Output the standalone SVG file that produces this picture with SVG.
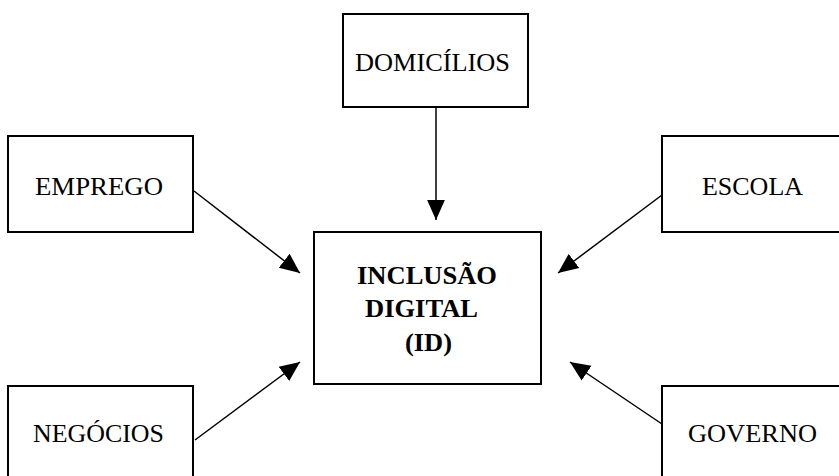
<svg xmlns="http://www.w3.org/2000/svg" width="839" height="476" viewBox="0 0 839 476">
<style>
.box{fill:#fff;stroke:#000;stroke-width:2}
.lbl{font-family:"Liberation Serif","Times New Roman",serif;font-size:26px;fill:#000}
.main{font-family:"Liberation Serif","Times New Roman",serif;font-size:26px;font-weight:bold;fill:#000}
.con{stroke:#000;stroke-width:1.5;fill:none;marker-end:url(#ah)}
</style>
<defs>
<marker id="ah" markerUnits="userSpaceOnUse" markerWidth="20" markerHeight="20" viewBox="0 0 18 16" refX="18" refY="8" orient="auto">
<path d="M0,0 L18,8 L0,16 Z" fill="#000"/>
</marker>
</defs>
<rect width="839" height="476" fill="#fff"/>
<g id="domicilios">
<rect class="box" x="343" y="14" width="185" height="93"/>
<text class="lbl" x="355" y="71" textLength="155" lengthAdjust="spacingAndGlyphs">DOMICÍLIOS</text>
</g>
<g id="emprego">
<rect class="box" x="8" y="136" width="185" height="96"/>
<text class="lbl" x="35" y="195" textLength="128" lengthAdjust="spacingAndGlyphs">EMPREGO</text>
</g>
<g id="escola">
<rect class="box" x="662" y="136" width="190" height="96"/>
<text class="lbl" x="702" y="195" textLength="101" lengthAdjust="spacingAndGlyphs">ESCOLA</text>
</g>
<g id="inclusao">
<rect class="box" x="314" y="232" width="227" height="152"/>
<text class="main" x="357" y="284" textLength="140" lengthAdjust="spacingAndGlyphs">INCLUSÃO</text>
<text class="main" x="365" y="317" textLength="113" lengthAdjust="spacingAndGlyphs">DIGITAL</text>
<text class="main" x="405" y="351" textLength="47" lengthAdjust="spacingAndGlyphs">(ID)</text>
</g>
<g id="negocios">
<rect class="box" x="8" y="386" width="185" height="100"/>
<text class="lbl" x="33" y="442" textLength="131" lengthAdjust="spacingAndGlyphs">NEGÓCIOS</text>
</g>
<g id="governo">
<rect class="box" x="662" y="386" width="190" height="100"/>
<text class="lbl" x="688" y="442" textLength="129" lengthAdjust="spacingAndGlyphs">GOVERNO</text>
</g>
<g id="connectors">
<line class="con" x1="436" y1="107" x2="436" y2="220"/>
<line class="con" x1="194" y1="191" x2="300" y2="273"/>
<line class="con" x1="662" y1="195" x2="558" y2="273"/>
<line class="con" x1="195" y1="440" x2="300" y2="362"/>
<line class="con" x1="662" y1="424" x2="570" y2="362"/>
</g>
</svg>
